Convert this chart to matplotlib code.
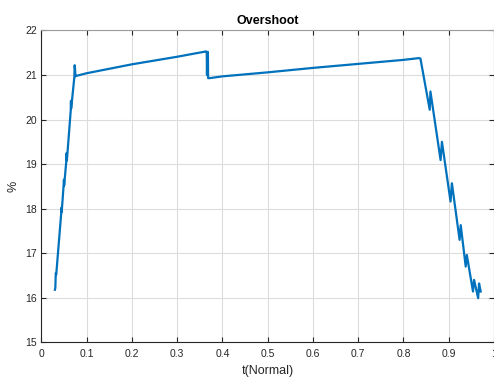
import matplotlib
matplotlib.use("Agg")
import matplotlib.pyplot as plt

plt.rcParams['font.family'] = ['Liberation Sans', 'DejaVu Sans']

# Rising segment (t, %)
rise_t = [0.0300, 0.0310, 0.0320, 0.0330, 0.0440, 0.0445, 0.0450, 0.0495, 0.0500,
          0.0505, 0.0555, 0.0560, 0.0565, 0.0650, 0.0655, 0.0660, 0.0730, 0.0737,
          0.0745, 0.0755, 0.0770]
rise_y = [16.18, 16.22, 16.55, 16.52, 17.90, 18.02, 17.92, 18.55, 18.65,
          18.52, 19.10, 19.25, 19.08, 20.20, 20.42, 20.25, 20.95, 21.22,
          21.15, 20.97, 20.98]

# First plateau
plat1_t = [0.100, 0.200, 0.300, 0.3640, 0.3655, 0.3660, 0.3665, 0.3680, 0.3685]
plat1_y = [21.04, 21.24, 21.41, 21.53, 21.52, 21.00, 21.50, 21.52, 20.93]

# Second plateau
plat2_t = [0.372, 0.400, 0.500, 0.600, 0.700, 0.800, 0.834]
plat2_y = [20.93, 20.97, 21.06, 21.16, 21.25, 21.34, 21.38]

# Falling segment
fall_t = [0.8375, 0.858, 0.8596, 0.882, 0.885, 0.904, 0.907, 0.924, 0.9265,
          0.9375, 0.940, 0.9536, 0.956, 0.965, 0.967, 0.9706]
fall_y = [21.37, 20.22, 20.63, 19.09, 19.50, 18.16, 18.57, 17.30, 17.63,
          16.70, 16.96, 16.14, 16.40, 15.99, 16.32, 16.14]

t = rise_t + plat1_t + plat2_t + fall_t
y = rise_y + plat1_y + plat2_y + fall_y

xticks = [0, 0.1, 0.2, 0.3, 0.4, 0.5, 0.6, 0.7, 0.8, 0.9, 1]
xticklabels = ['0', '0.1', '0.2', '0.3', '0.4', '0.5', '0.6', '0.7', '0.8', '0.9', '1']
yticks = [15, 16, 17, 18, 19, 20, 21, 22]

fig = plt.figure(figsize=(4.94, 3.81), dpi=100)
ax = fig.add_axes([0.0836, 0.1016, 0.9164, 0.8184])

ax.plot(t, y, color='#0072BD', linewidth=1.6, zorder=3)

ax.set_xlim(0, 1)
ax.set_ylim(15, 22)
ax.set_xticks(xticks)
ax.set_xticklabels(xticklabels)
ax.set_yticks(yticks)

ax.grid(True, color='#dcdcdc', linewidth=0.8)
ax.set_axisbelow(True)

ax.tick_params(axis='both', direction='in', length=3.5, width=0.8,
               labelsize=7.5, colors='#262626', top=True, right=True)
ax.tick_params(axis='x', pad=5)
ax.tick_params(axis='y', pad=3)

for side in ['left', 'bottom']:
    ax.spines[side].set_color('#262626')
    ax.spines[side].set_linewidth(0.8)
for side in ['top', 'right']:
    ax.spines[side].set_color('#9a9a9a')
    ax.spines[side].set_linewidth(0.8)

ax.set_title('Overshoot', fontsize=9, fontweight='bold', color='black', pad=5)
ax.set_xlabel('t(Normal)', fontsize=9, color='#262626', labelpad=4)
ax.set_ylabel('%', fontsize=9, color='#262626', labelpad=4)

fig.savefig('out.png', dpi=100)
